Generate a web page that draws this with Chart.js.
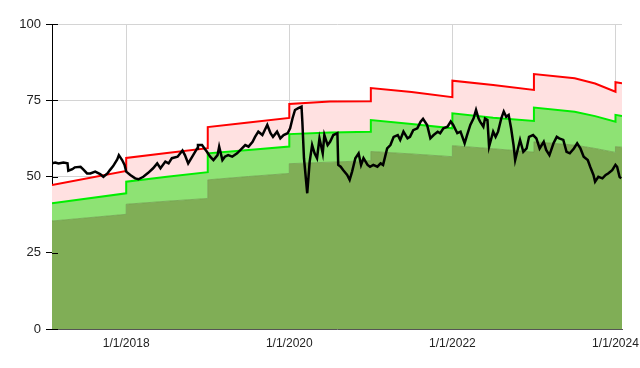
<!DOCTYPE html>
<html>
<head>
<meta charset="utf-8">
<script src="https://cdn.jsdelivr.net/npm/chart.js@4.4.1/dist/chart.umd.min.js"></script>
<style>
  html, body { margin: 0; padding: 0; background: #fff; }
  #wrap { width: 640px; height: 368px; }
</style>
</head>
<body>
<div id="wrap"><canvas id="chart" width="640" height="368"></canvas></div>
<script>
// band breakpoints (decimal years), repeated year = step on Jan 1
const bandYears = [2017.09, 2018, 2018, 2018.5, 2019, 2019, 2019.5, 2020, 2020, 2020.5, 2021, 2021, 2021.5, 2022, 2022, 2022.5, 2023, 2023, 2023.5, 2023.75, 2024, 2024, 2024.08]
const upperBand = [47.2, 51.8, 56.1, 57.7, 59.3, 66.2, 67.7, 69.2, 73.8, 74.6, 74.7, 79.0, 77.7, 76.0, 81.4, 80.0, 78.4, 83.6, 82.2, 80.5, 77.8, 80.9, 80.6]
const middleBand = [41.2, 44.5, 48.3, 49.9, 51.4, 57.6, 58.7, 59.8, 63.9, 64.4, 64.7, 68.5, 67.2, 65.8, 70.7, 69.3, 68.2, 72.6, 71.2, 69.8, 68.0, 70.2, 69.8]
const lowerBand = [35.4, 37.6, 40.9, 41.9, 42.8, 48.9, 50.0, 51.0, 54.2, 54.7, 55.2, 58.2, 57.4, 56.5, 60.1, 59.1, 58.0, 61.4, 60.3, 59.2, 57.9, 59.8, 59.6]

// price line
const priceYears = [
  2017.09, 2017.13, 2017.17, 2017.23, 2017.28, 2017.29, 2017.34, 2017.37, 2017.44, 2017.47,
  2017.52, 2017.56, 2017.62, 2017.68, 2017.72, 2017.77, 2017.80, 2017.84, 2017.89, 2017.91,
  2017.95, 2017.98, 2018.00, 2018.05, 2018.11, 2018.15, 2018.21, 2018.27, 2018.33, 2018.38,
  2018.42, 2018.48, 2018.52, 2018.56, 2018.63, 2018.69, 2018.72, 2018.76, 2018.81, 2018.87,
  2018.88, 2018.93, 2018.96, 2018.99, 2019.03, 2019.07, 2019.12, 2019.14, 2019.18, 2019.21,
  2019.25, 2019.30, 2019.36, 2019.42, 2019.46, 2019.50, 2019.55, 2019.58, 2019.62, 2019.67,
  2019.71, 2019.73, 2019.77, 2019.80, 2019.85, 2019.89, 2019.93, 2019.98, 2020.01, 2020.04,
  2020.07, 2020.11, 2020.15, 2020.16, 2020.18, 2020.22, 2020.25, 2020.28, 2020.31, 2020.34,
  2020.37, 2020.41, 2020.43, 2020.47, 2020.50, 2020.54, 2020.59, 2020.60, 2020.63, 2020.66,
  2020.71, 2020.74, 2020.77, 2020.81, 2020.85, 2020.88, 2020.91, 2020.96, 2020.99, 2021.03,
  2021.08, 2021.12, 2021.15, 2021.20, 2021.24, 2021.28, 2021.33, 2021.36, 2021.40, 2021.45,
  2021.48, 2021.52, 2021.57, 2021.61, 2021.64, 2021.69, 2021.73, 2021.77, 2021.82, 2021.85,
  2021.89, 2021.94, 2021.98, 2022.01, 2022.06, 2022.10, 2022.15, 2022.18, 2022.22, 2022.26,
  2022.29, 2022.32, 2022.34, 2022.38, 2022.40, 2022.43, 2022.45, 2022.50, 2022.53, 2022.56,
  2022.60, 2022.63, 2022.66, 2022.69, 2022.72, 2022.75, 2022.77, 2022.80, 2022.83, 2022.87,
  2022.91, 2022.94, 2022.99, 2023.03, 2023.07, 2023.12, 2023.15, 2023.19, 2023.24, 2023.28,
  2023.31, 2023.36, 2023.40, 2023.44, 2023.49, 2023.53, 2023.57, 2023.61, 2023.66, 2023.69,
  2023.73, 2023.75, 2023.79, 2023.84, 2023.88, 2023.91, 2023.96, 2024.00, 2024.02, 2024.05,
  2024.07
]
const priceValues = [
  54.3, 54.6, 54.3, 54.6, 54.3, 51.9, 52.4, 53.0, 53.2, 52.4,
  51.0, 51.0, 51.6, 50.8, 49.9, 51.0, 52.1, 53.4, 55.6, 57.0,
  55.4, 53.8, 51.6, 50.5, 49.4, 49.1, 49.9, 51.2, 52.7, 54.3,
  52.7, 54.9, 54.3, 56.0, 56.5, 58.5, 57.0, 54.3, 56.5, 59.2,
  60.3, 60.3, 59.2, 58.1, 56.5, 55.4, 57.0, 59.8, 55.4, 56.5,
  57.0, 56.5, 57.6, 59.2, 60.3, 59.8, 61.4, 63.0, 64.7, 63.6,
  65.8, 66.9, 64.2, 63.0, 64.7, 62.5, 63.6, 64.2, 65.8, 69.1,
  71.8, 72.4, 72.9, 68.0, 56.0, 44.5, 54.9, 60.3, 57.6, 56.0,
  62.5, 57.6, 63.6, 60.3, 61.4, 63.6, 64.2, 53.8, 53.2, 52.1,
  50.5, 48.9, 51.6, 56.0, 57.6, 53.8, 56.0, 53.8, 53.2, 53.8,
  53.2, 54.3, 53.8, 59.2, 60.3, 63.0, 63.6, 62.0, 64.7, 62.5,
  63.0, 65.2, 65.8, 68.0, 68.9, 66.9, 62.5, 63.6, 64.7, 64.2,
  65.8, 66.3, 68.0, 66.9, 64.2, 64.7, 60.9, 63.6, 66.9, 69.1,
  71.8, 69.1, 68.0, 66.3, 69.0, 68.5, 59.8, 64.7, 63.0, 64.7,
  69.1, 71.3, 69.6, 70.2, 65.8, 60.3, 55.4, 58.7, 62.0, 58.1,
  59.2, 63.0, 63.6, 62.5, 59.2, 61.4, 58.7, 57.0, 60.9, 63.0,
  62.5, 62.0, 58.1, 57.6, 59.2, 60.9, 59.2, 56.5, 55.4, 53.2,
  50.5, 48.3, 49.9, 49.4, 50.5, 51.0, 52.1, 53.8, 53.2, 49.9,
  49.4
]

const xTickValues = [2018, 2020, 2022, 2024]
const xTickLabels = ['1/1/2018', '1/1/2020', '1/1/2022', '1/1/2024']
const yTickValues = [0, 25, 50, 75, 100]

const pts = (xs, ys) => xs.map((x, i) => ({ x, y: ys[i] }))

// y ticks also cross into the plot a little
const innerTicks = {
  id: 'innerTicks',
  afterDraw (chart) {
    const { ctx, chartArea } = chart
    const y = chart.scales.y
    ctx.save()
    ctx.strokeStyle = '#000'
    ctx.lineWidth = 1
    y.ticks.forEach((t) => {
      const py = Math.round(y.getPixelForValue(t.value)) + 0.5
      ctx.beginPath()
      ctx.moveTo(chartArea.left, py)
      ctx.lineTo(chartArea.left + 6, py)
      ctx.stroke()
    })
    ctx.restore()
  }
}

new Chart(document.getElementById('chart'), {
  type: 'line',
  data: {
    datasets: [
      {
        data: pts(bandYears, lowerBand),
        borderColor: 'rgba(112,160,78,0.8)',
        borderWidth: 1,
        backgroundColor: 'rgb(128,174,86)',
        fill: 'origin',
        pointRadius: 0,
        order: 3
      },
      {
        data: pts(bandYears, middleBand),
        borderColor: '#00ee00',
        borderWidth: 2,
        backgroundColor: 'rgb(142,226,116)',
        fill: '-1',
        pointRadius: 0,
        order: 2
      },
      {
        data: pts(bandYears, upperBand),
        borderColor: '#ff0000',
        borderWidth: 2,
        backgroundColor: 'rgb(255,225,225)',
        fill: '-1',
        pointRadius: 0,
        order: 1
      },
      {
        data: pts(priceYears, priceValues),
        borderColor: '#000',
        borderWidth: 2.5,
        fill: false,
        pointRadius: 0,
        order: 0
      }
    ]
  },
  options: {
    responsive: false,
    animation: false,
    layout: { padding: { top: 24, right: 18, left: 0, bottom: 0 } },
    plugins: {
      legend: { display: false },
      tooltip: { enabled: false },
      filler: { drawTime: 'beforeDatasetsDraw' }
    },
    scales: {
      x: {
        type: 'linear',
        min: 2017.09,
        max: 2024.08,
        afterBuildTicks: (scale) => { scale.ticks = xTickValues.map(v => ({ value: v })) },
        afterFit: (scale) => {
          scale.height = 39
          scale.paddingLeft = 0
          scale.paddingRight = 0
        },
        grid: { color: '#d4d4d4', drawTicks: false },
        border: { color: '#555', width: 1 },
        ticks: {
          autoSkip: false,
          maxRotation: 0,
          padding: 7,
          color: '#222',
          font: { family: 'Liberation Sans, Arial, sans-serif', size: 12 },
          callback: (v) => xTickLabels[xTickValues.indexOf(v)]
        }
      },
      y: {
        min: 0,
        max: 100,
        afterBuildTicks: (scale) => { scale.ticks = yTickValues.map(v => ({ value: v })) },
        afterFit: (scale) => {
          scale.width = 52
          scale.paddingTop = 0
          scale.paddingBottom = 0
        },
        grid: { color: '#d4d4d4', tickColor: '#000', tickLength: 6 },
        border: { color: '#000', width: 1 },
        ticks: {
          padding: 5,
          color: '#222',
          font: { family: 'Liberation Sans, Arial, sans-serif', size: 13 }
        }
      }
    }
  },
  plugins: [innerTicks]
})
</script>
</body>
</html>
